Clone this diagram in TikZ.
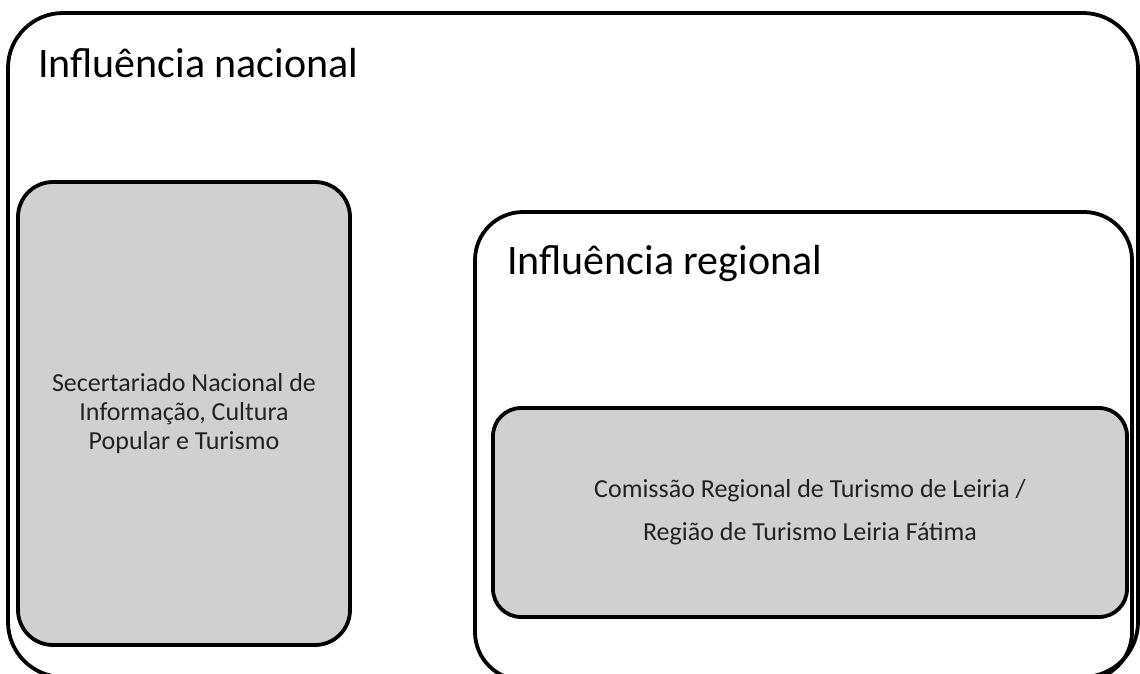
\documentclass[tikz,border=0pt]{standalone}
\usepackage{fontspec}
\setmainfont{Carlito}
\definecolor{boxgray}{HTML}{D0D0D0}
\definecolor{txtgray}{HTML}{222222}
\tikzset{
  frame/.style={draw=black, line width=3.8pt, inner sep=0pt},
  graybox/.style={frame, fill=boxgray},
  title/.style={anchor=base west, inner sep=0pt, font=\fontsize{42}{50}\selectfont},
  boxtext/.style={align=center, text=txtgray, inner sep=0pt}
}
\begin{document}
\begin{tikzpicture}[x=1pt,y=-1pt]
\useasboundingbox (0,0) rectangle (1140,673);
\clip (0,0) rectangle (1140,673);
\fill[white] (0,0) rectangle (1140,673);
\node[frame, rounded corners=55pt, minimum width=1130pt, minimum height=664pt] (outer) at (573,345) {};
\node[title] (tnat) at (38,77) {Influência nacional};
\node[graybox, rounded corners=35pt, minimum width=332pt, minimum height=463pt] (snipt) at (184,413.5) {};
\node[boxtext, font=\fontsize{26}{29}\selectfont] (sniptxt) at (snipt.center) {Secertariado Nacional de\\Informação, Cultura\\Popular e Turismo};
\node[frame, rounded corners=48pt, minimum width=657pt, minimum height=468pt] (reg) at (803.5,446) {};
\node[title] (treg) at (507,274) {Influência regional};
\node[graybox, rounded corners=28pt, minimum width=634pt, minimum height=209pt] (crt) at (810,512.5) {};
\node[boxtext, font=\fontsize{26}{43}\selectfont] (crttxt) at (crt.center) {Comissão Regional de Turismo de Leiria /\\Região de Turismo Leiria Fátima};
\end{tikzpicture}
\end{document}
